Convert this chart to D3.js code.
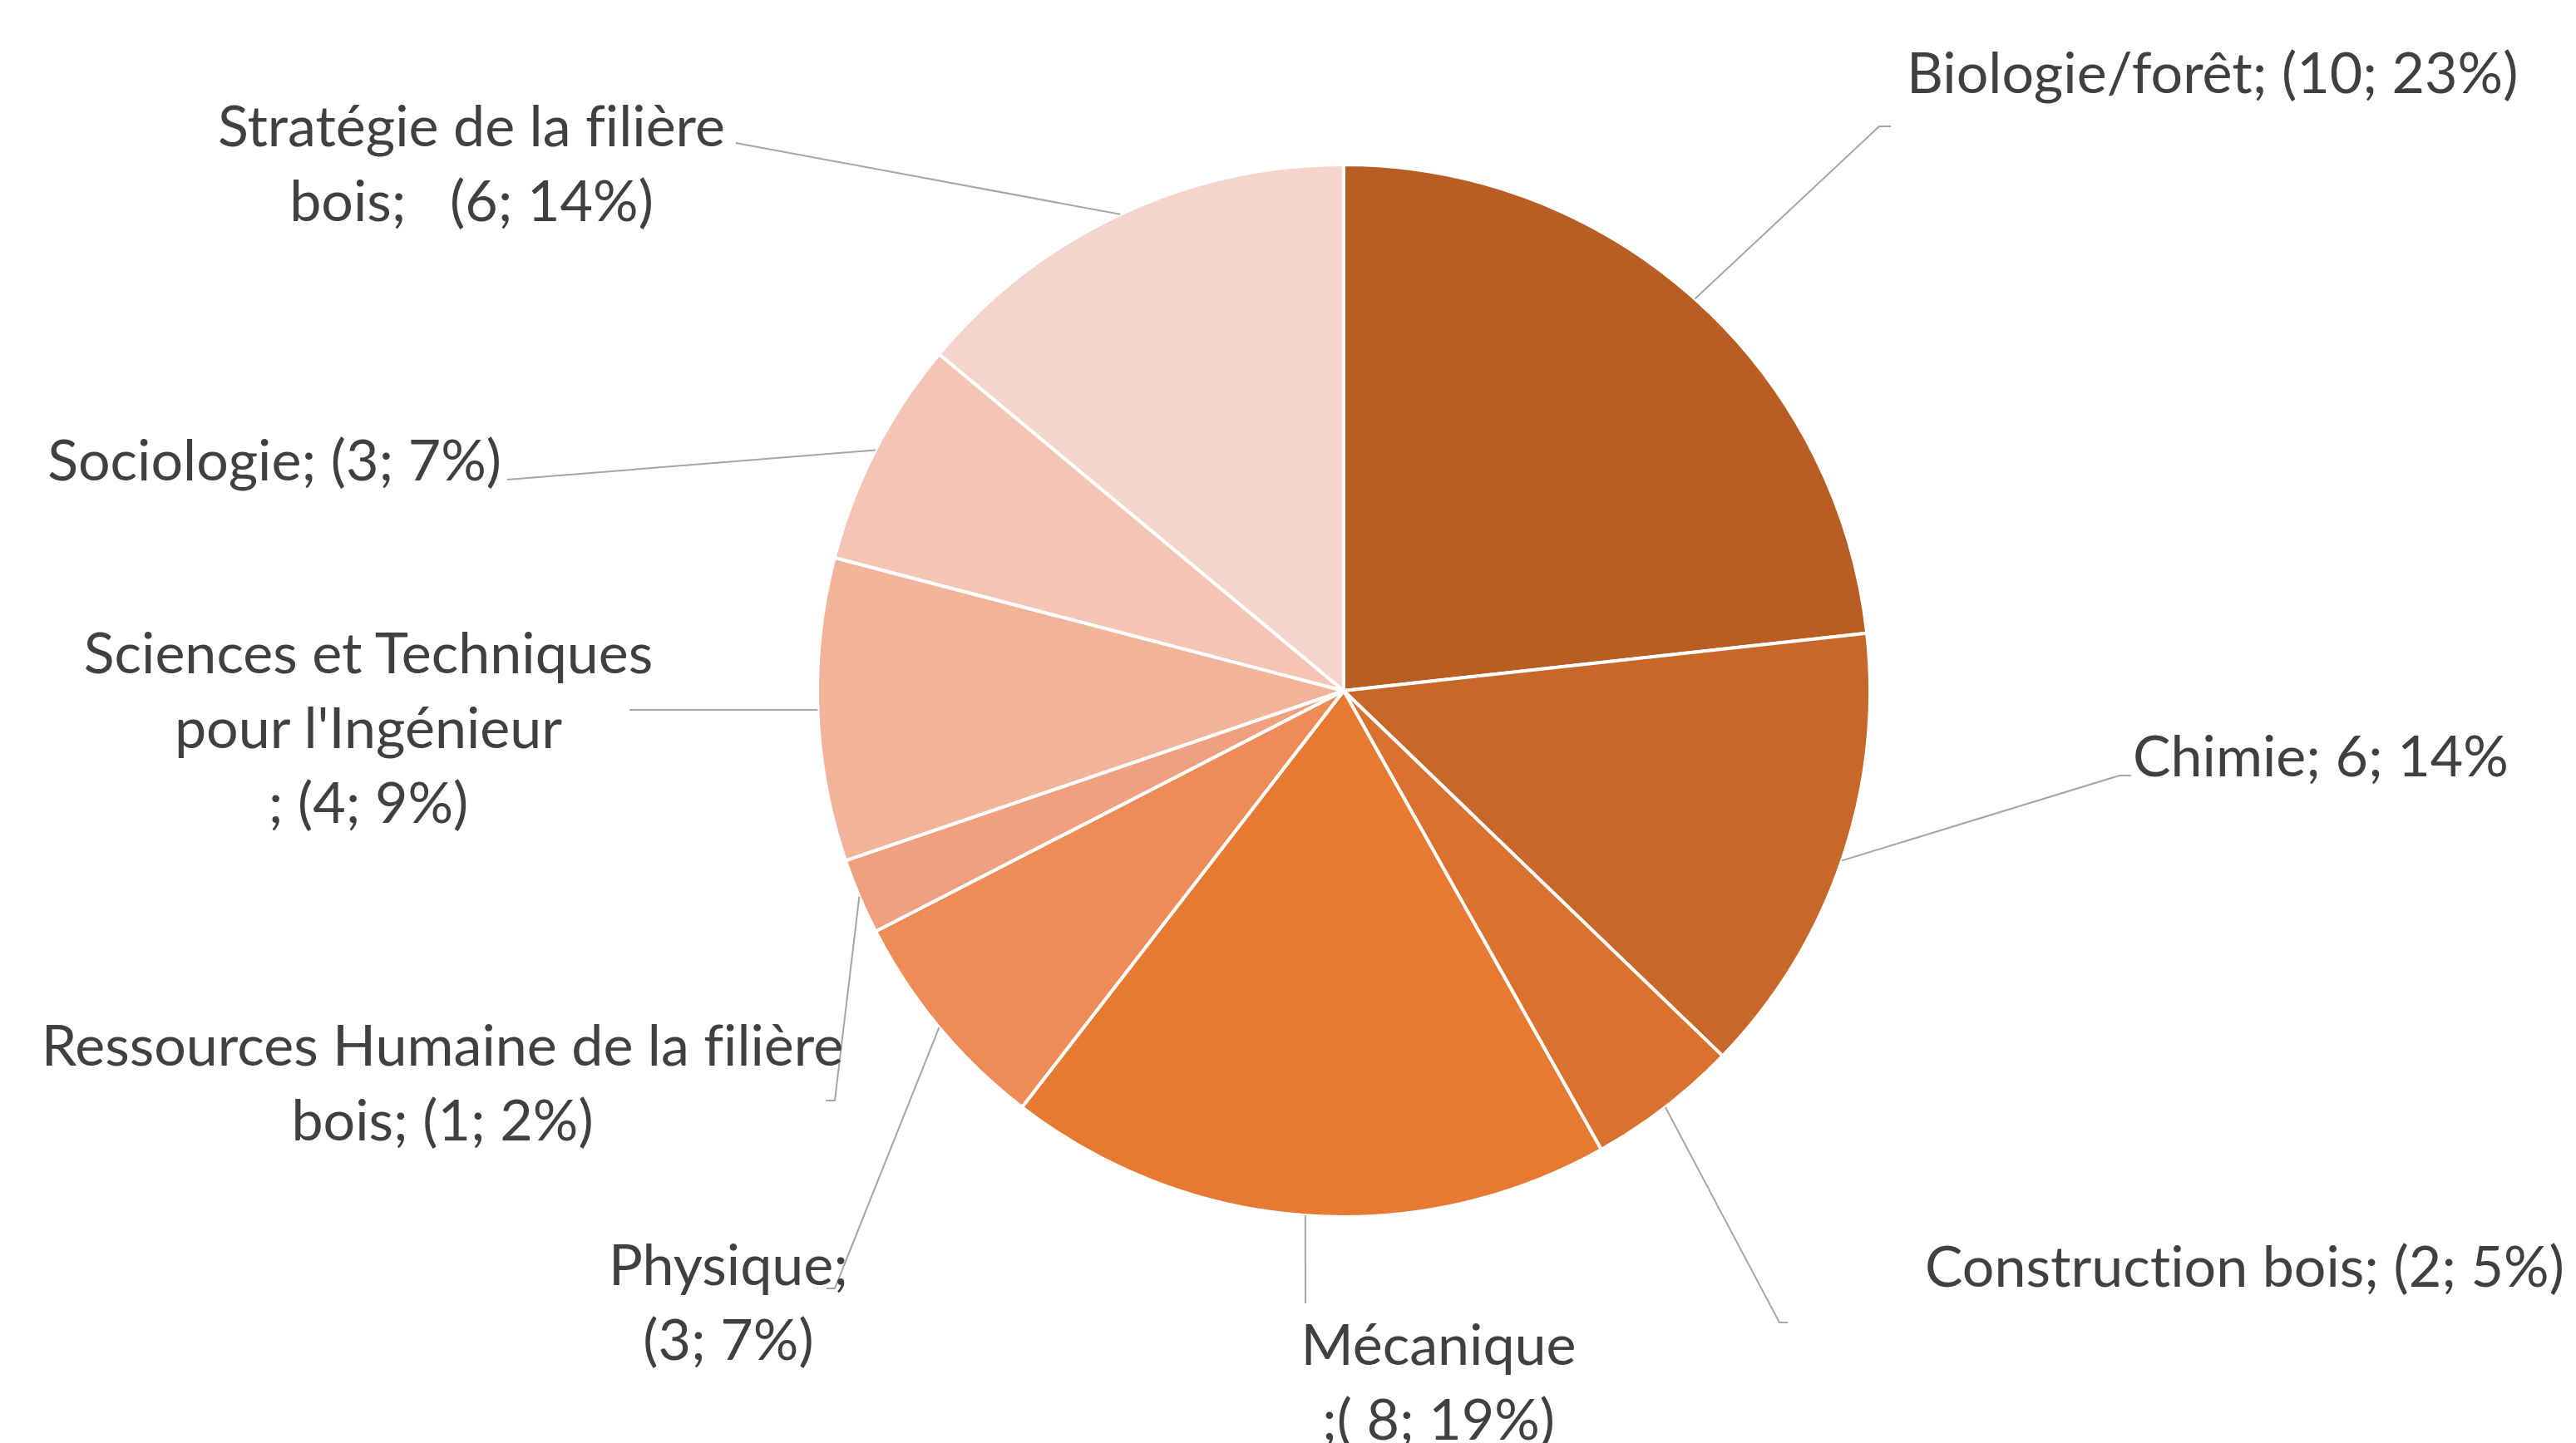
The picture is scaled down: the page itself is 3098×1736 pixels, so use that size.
<!DOCTYPE html>
<html>
<head>
<meta charset="utf-8">
<script src="https://cdn.jsdelivr.net/npm/d3@7"></script>
<style>
  html, body { margin: 0; padding: 0; background: #fff; }
  svg { display: block; }
  text { white-space: pre; font-variant-ligatures: none; }
</style>
</head>
<body>
<svg class="pie-chart"></svg>
<script>
const width = 3098;
const height = 1736;

// data
const categories = [
    "Biologie/forêt",
    "Chimie",
    "Construction bois",
    "Mécanique",
    "Physique",
    "Ressources Humaine de la filière bois",
    "Sciences et Techniques pour l'Ingénieur",
    "Sociologie",
    "Stratégie de la filière bois"
];
const values = [10, 6, 2, 8, 3, 1, 4, 3, 6];
const labelLines = [
    ["Biologie/forêt; (10; 23%)"],
    ["Chimie; 6; 14%"],
    ["Construction bois; (2; 5%)"],
    ["Mécanique", ";( 8; 19%)"],
    ["Physique;", "(3; 7%)"],
    ["Ressources Humaine de la filière", "bois; (1; 2%)"],
    ["Sciences et Techniques", "pour l'Ingénieur", "; (4; 9%)"],
    ["Sociologie; (3; 7%)"],
    ["Stratégie de la filière", "bois;   (6; 14%)"]
];
const colors = [
    "#b85e24", "#c7682a", "#d8722e", "#e67a33", "#ed8c56",
    "#f0a07e", "#f2b39b", "#f4c4b4", "#f5d5cb"
];

// layout: pie geometry and hand placed labels (offsets from the centre)
const cx = 1616, cy = 831, radius = 633;
const lineHeight = 90;
const labelLayout = {
    "Biologie/forêt":                          {x: 677,   y: -719, anchor: "start",  leader: [[644, -679], [658, -679]]},
    "Chimie":                                  {x: 949,   y: 103,  anchor: "start",  leader: [[933, 102], [947, 102]]},
    "Construction bois":                       {x: 699,   y: 717,  anchor: "start",  leader: [[524, 760], [534, 760]]},
    "Mécanique":                               {x: 114,   y: 811,  anchor: "middle", leader: [[-46, 737]]},
    "Physique":                                {x: -740,  y: 715,  anchor: "middle", leader: [[-612, 719], [-622, 719]]},
    "Ressources Humaine de la filière bois":   {x: -1084, y: 451,  anchor: "middle", leader: [[-612, 493], [-623, 493]]},
    "Sciences et Techniques pour l'Ingénieur": {x: -1173, y: -21,  anchor: "middle", leader: [[-859, 23]]},
    "Sociologie":                              {x: -1013, y: -253, anchor: "end",    leader: [[-1006, -254]]},
    "Stratégie de la filière bois":            {x: -1049, y: -655, anchor: "middle", leader: [[-731, -659]]}
};

const data = categories.map((c, i) => ({name: c, value: values[i], lines: labelLines[i]}));

const svg = d3.select(".pie-chart")
    .attr("width", width)
    .attr("height", height);

const color = d3.scaleOrdinal()
    .domain(categories)
    .range(colors);

const pie = d3.pie()
    .sort(null)
    .value(d => d.value);

const arc = d3.arc()
    .innerRadius(0)
    .outerRadius(radius);

const edgeArc = d3.arc()
    .innerRadius(radius)
    .outerRadius(radius);

const arcs = pie(data);

const g = svg.append("g")
    .attr("transform", `translate(${cx},${cy})`);

g.append("g")
    .selectAll("path")
        .data(arcs)
    .enter().append("path")
        .attr("d", arc)
        .attr("fill", d => color(d.data.name))
        .attr("stroke", "#fff")
        .attr("stroke-width", 4)
        .attr("stroke-linejoin", "round");

// leader lines start on the rim at the middle of each slice
g.append("g")
    .attr("fill", "none")
    .attr("stroke", "#a6a6a6")
    .attr("stroke-width", 2)
    .selectAll("path")
        .data(arcs)
    .enter().append("path")
        .attr("d", d => d3.line()([edgeArc.centroid(d), ...labelLayout[d.data.name].leader]));

const labels = g.append("g")
    .attr("fill", "#404040")
    .style("font-family", "Lato, 'Open Sans', sans-serif")
    .style("font-size", "74px")
    .selectAll("text")
        .data(arcs)
    .enter().append("text")
        .attr("x", d => labelLayout[d.data.name].x)
        .attr("y", d => labelLayout[d.data.name].y)
        .attr("text-anchor", d => labelLayout[d.data.name].anchor);

labels.selectAll("tspan")
    .data(d => d.data.lines.map((t, i) => ({t, i, p: labelLayout[d.data.name]})))
    .enter().append("tspan")
        .attr("x", d => d.p.x)
        .attr("y", d => d.p.y + d.i * lineHeight)
        .text(d => d.t);

// fit the font so that a reference label keeps the width it has in the picture
const probe = labels.filter(d => d.data.name === "Construction bois").node();
const targetWidth = 769;
const measured = probe.getComputedTextLength();
const fontSize = 74 * targetWidth / measured;
g.selectAll("text").style("font-size", fontSize + "px");
</script>
</body>
</html>
